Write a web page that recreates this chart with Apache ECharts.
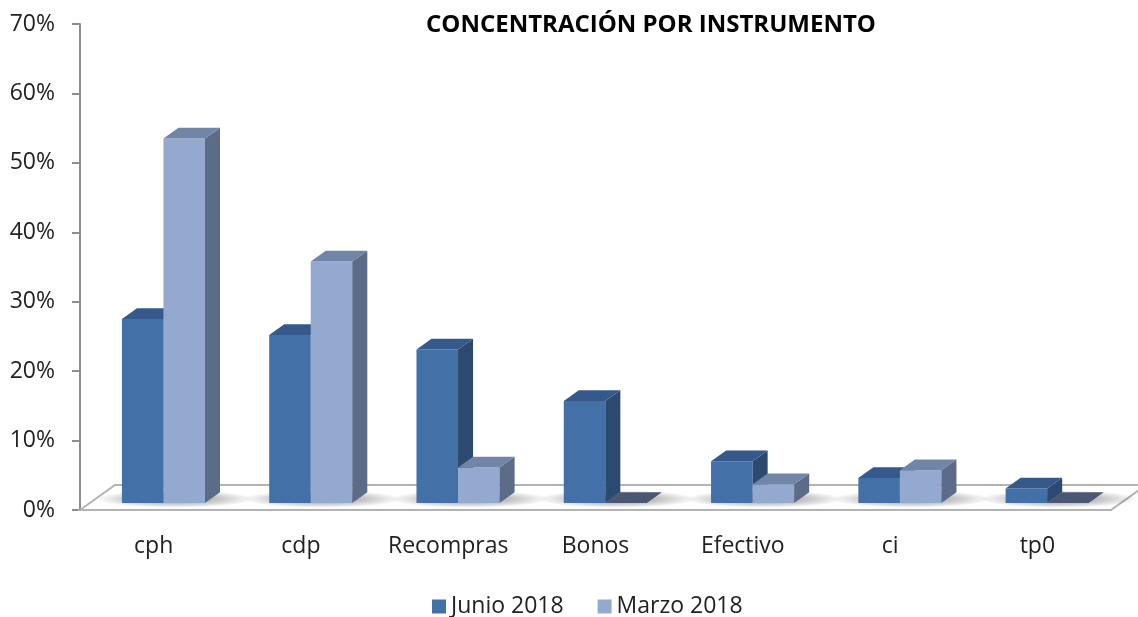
<!DOCTYPE html>
<html>
<head>
<meta charset="utf-8">
<script src="https://cdn.jsdelivr.net/npm/echarts@6/dist/echarts.min.js"></script>
<style>
  html, body { margin: 0; padding: 0; background: #fff; }
  #chart { width: 1138px; height: 617px; }
</style>
</head>
<body>
<div id="chart"></div>
<script>
// datos
var categories = ['cph', 'cdp', 'Recompras', 'Bonos', 'Efectivo', 'ci', 'tp0'];
var junio2018 = [26.5, 24.2, 22.1, 14.7, 6.0, 3.6, 2.1];
var marzo2018 = [52.5, 34.8, 5.1, 0, 2.7, 4.7, 0];
var yTicks = [0, 10, 20, 30, 40, 50, 60, 70];

// estilo 3D
var DEPTH = [35, -25];        // vector de profundidad del piso
var FRONT = 0.28, BACK = 0.71; // posición de las barras dentro del piso
var BAR_RATIO = 0.282;
var FONT = 'Open Sans';
var colors = [
  { front: '#4371a7', top: '#35598a', side: '#2c4a6f', flat: '#2f4c72' },
  { front: '#94a9d0', top: '#7085a7', side: '#5c6b87', flat: '#4b5672' }
];

function boxItem(idx) {
  return function (params, api) {
    var cat = api.value(0), val = api.value(1);
    var base = api.coord([cat, 0]);
    var topP = api.coord([cat, val]);
    var w = api.size([1, 0])[0] * BAR_RATIO;
    var fx = DEPTH[0] * FRONT, fy = DEPTH[1] * FRONT;
    var bx = DEPTH[0] * (BACK - FRONT), by = DEPTH[1] * (BACK - FRONT);
    var L = base[0] + fx + (idx === 0 ? -w : 0);
    var R = L + w;
    var B = base[1] + fy;
    var T = topP[1] + fy;
    var c = colors[idx];
    return {
      type: 'group',
      children: [
        { type: 'rect', shape: { x: L, y: T, width: w, height: B - T }, style: { fill: c.front } },
        { type: 'polygon', shape: { points: [[R, T], [R + bx, T + by], [R + bx, B + by], [R, B]] }, style: { fill: c.side } },
        { type: 'polygon', shape: { points: [[L, T], [R, T], [R + bx, T + by], [L + bx, T + by]] }, style: { fill: val === 0 ? c.flat : c.top } }
      ]
    };
  };
}

var chart = echarts.init(document.getElementById('chart'));
chart.setOption({
  backgroundColor: '#fff',
  animation: false,
  title: {
    text: 'CONCENTRACIÓN POR INSTRUMENTO',
    left: 421, top: 8,
    textStyle: { fontFamily: FONT, fontWeight: 'bold', fontSize: 24, color: '#000' }
  },
  legend: {
    bottom: -6, left: 427,
    icon: 'rect', itemWidth: 14, itemHeight: 14, itemGap: 34, itemTextGap: 6,
    textStyle: { fontFamily: FONT, fontSize: 23, color: '#222' },
    data: ['Junio 2018', 'Marzo 2018']
  },
  grid: { left: 80, right: 27, top: 24, bottom: 107 },
  xAxis: {
    type: 'category',
    data: categories,
    axisLine: { lineStyle: { color: '#8c8c8c', width: 2 } },
    axisTick: { length: 8, lineStyle: { color: '#8c8c8c', width: 2 } },
    axisLabel: { interval: 0, margin: 25, fontFamily: FONT, fontSize: 23, color: '#222' }
  },
  yAxis: {
    type: 'value',
    min: yTicks[0], max: yTicks[yTicks.length - 1], interval: 10,
    splitLine: { show: false },
    axisLine: { show: true, lineStyle: { color: '#8c8c8c', width: 2 } },
    axisTick: { show: true, length: 8, lineStyle: { color: '#8c8c8c', width: 2 } },
    axisLabel: { margin: 25, formatter: '{value}%', fontFamily: FONT, fontSize: 23, color: '#222' }
  },
  series: [
    {
      // piso
      type: 'custom',
      silent: true,
      data: [[0, 0]],
      renderItem: function (params, api) {
        var cs = params.coordSys;
        var y0 = cs.y + cs.height;
        return {
          type: 'polygon',
          shape: { points: [[cs.x, y0], [cs.x + DEPTH[0], y0 + DEPTH[1]], [cs.x + cs.width + DEPTH[0], y0 + DEPTH[1]], [cs.x + cs.width, y0]] },
          style: { fill: '#fff', stroke: '#b3b3b3', lineWidth: 2 }
        };
      }
    },
    {
      // sombras sobre el piso
      type: 'custom',
      silent: true,
      data: categories.map(function (c, i) { return [i, 0]; }),
      renderItem: function (params, api) {
        var base = api.coord([api.value(0), 0]);
        var w = api.size([1, 0])[0] * BAR_RATIO;
        var mid = (FRONT + BACK) / 2;
        var cx = base[0] + DEPTH[0] * mid + 4, cy = base[1] + DEPTH[1] * FRONT - 4;
        var r = w + 38;
        return {
          type: 'circle',
          x: cx, y: cy, scaleY: 0.11,
          shape: { cx: 0, cy: 0, r: r },
          style: {
            fill: new echarts.graphic.RadialGradient(0.5, 0.5, 0.5, [
              { offset: 0, color: 'rgba(0,0,0,0.45)' },
              { offset: 0.6, color: 'rgba(0,0,0,0.2)' },
              { offset: 1, color: 'rgba(0,0,0,0)' }
            ])
          }
        };
      }
    },
    {
      name: 'Junio 2018',
      type: 'custom',
      itemStyle: { color: colors[0].front },
      encode: { x: 0, y: 1 },
      data: junio2018.map(function (v, i) { return [i, v]; }),
      renderItem: boxItem(0)
    },
    {
      name: 'Marzo 2018',
      type: 'custom',
      itemStyle: { color: colors[1].front },
      encode: { x: 0, y: 1 },
      data: marzo2018.map(function (v, i) { return [i, v]; }),
      renderItem: boxItem(1)
    }
  ]
});
</script>
</body>
</html>
